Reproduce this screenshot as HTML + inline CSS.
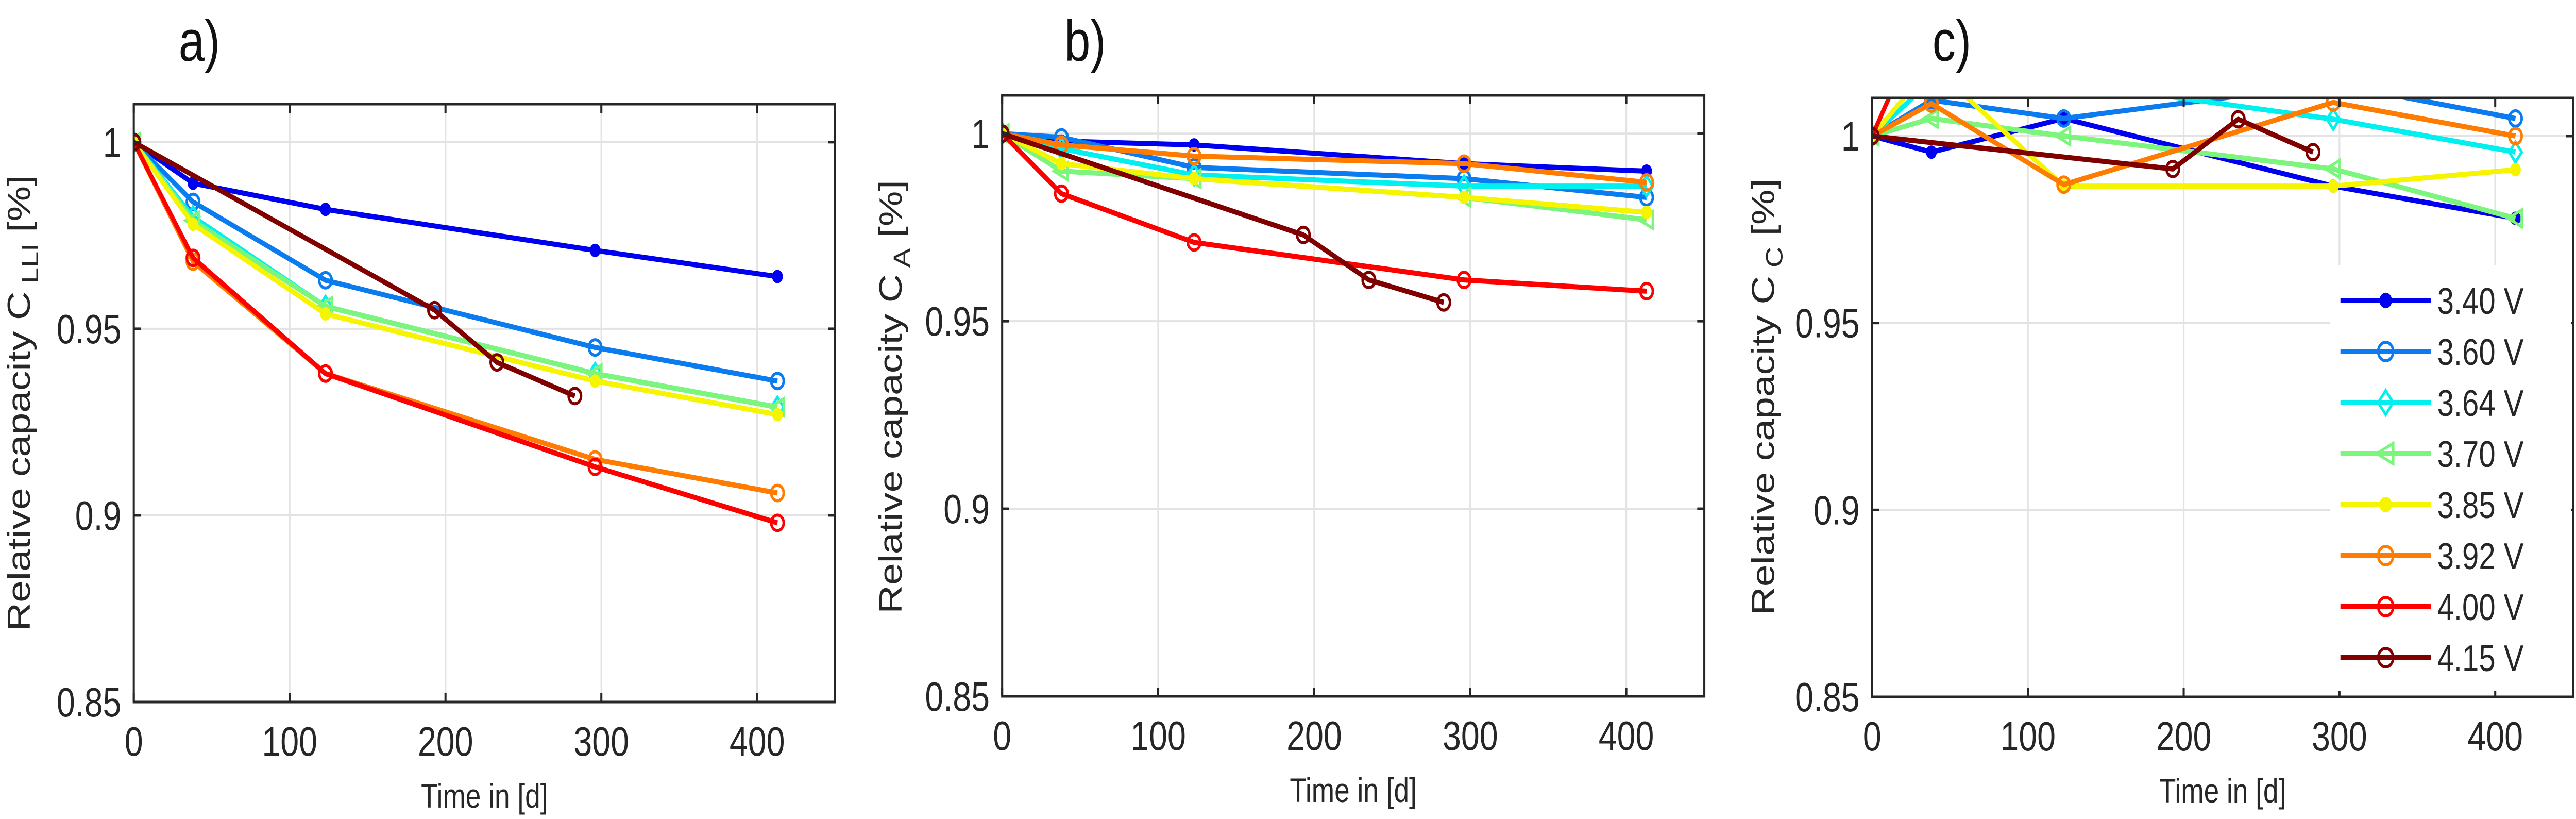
<!DOCTYPE html>
<html><head><meta charset="utf-8"><style>
html,body{margin:0;padding:0;background:#fff;overflow:hidden;width:100vw;height:100vh;}
svg{display:block;font-family:"Liberation Sans",Arial,sans-serif;width:100vw;height:100vh;}
</style></head><body>
<svg id="chart" viewBox="0 0 6200 1589" preserveAspectRatio="none" xmlns="http://www.w3.org/2000/svg">
<defs>
<clipPath id="clipA"><rect x="322" y="202" width="1688" height="1160"/></clipPath>
<clipPath id="clipB"><rect x="2412" y="185" width="1690" height="1166"/></clipPath>
<clipPath id="clipC"><rect x="4506" y="190" width="1687" height="1162"/></clipPath>
</defs>
</svg>
<script>
// ---- data ----
const seriesNames = ["3.40 V","3.60 V","3.64 V","3.70 V","3.85 V","3.92 V","4.00 V","4.15 V"];
const seriesColors = ["#0000f0","#0a7cf0","#00f0f0","#7cf57c","#f5f500","#ff7c00","#ff0000","#800000"];
const seriesMarkers = ["star","circle","diamond","triangle","star","circle","circle","circle"];
const timeMain = [0,38,123,296,413];
const timeHigh = [0,193,233,283];
const timeHighB = [0,193,235,283];
const xTicks = [0,100,200,300,400];
const yTicks = [0.85,0.9,0.95,1];
const yTickLabels = ["0.85","0.9","0.95","1"];

const valsA340 = [1,0.989,0.982,0.971,0.964];
const valsA360 = [1,0.984,0.963,0.945,0.936];
const valsA364 = [1,0.980,0.956,0.938,0.929];
const valsA370 = [1,0.979,0.956,0.938,0.929];
const valsA385 = [1,0.978,0.954,0.936,0.927];
const valsA392 = [1,0.968,0.938,0.915,0.906];
const valsA400 = [1,0.969,0.938,0.913,0.898];
const valsA415 = [1,0.955,0.941,0.932];

const valsB340 = [1,0.998,0.997,0.992,0.990];
const valsB360 = [1,0.999,0.991,0.988,0.983];
const valsB364 = [1,0.996,0.989,0.986,0.986];
const valsB370 = [1,0.990,0.988,0.983,0.977];
const valsB385 = [1,0.992,0.988,0.983,0.979];
const valsB392 = [1,0.997,0.994,0.992,0.987];
const valsB400 = [1,0.984,0.971,0.961,0.958];
const valsB415 = [1,0.973,0.961,0.955];

const valsC340 = [1,0.9957,1.0047,0.9866,0.978];
const valsC360 = [1,1.0096,1.0047,1.014,1.0047];
const valsC364 = [1,1.015,1.0145,1.0045,0.9957];
const valsC370 = [1,1.0047,1.0,0.9912,0.978];
const valsC385 = [1,1.019,0.9866,0.9866,0.991];
const valsC392 = [1,1.0087,0.987,1.009,1.0];
const valsC400 = [1,1.036,1.04,1.045,1.05];
const valsC415 = [1,0.9912,1.0045,0.9957];

const NS="http://www.w3.org/2000/svg";
const svg=document.getElementById('chart');
function mk(tag,attrs,parent){const e=document.createElementNS(NS,tag);for(const k in attrs)e.setAttribute(k,attrs[k]);(parent||svg).appendChild(e);return e;}

const panels=[
 {id:'a',L:322,R:2010,T:202,B:1362,clip:'clipA',title:'a)',tx:430,sub:'LLI',ylx:45,yly:782,
  xs:[timeMain,timeMain,timeMain,timeMain,timeMain,timeMain,timeMain,timeHigh],
  ys:[valsA340,valsA360,valsA364,valsA370,valsA385,valsA392,valsA400,valsA415]},
 {id:'b',L:2412,R:4102,T:185,B:1351,clip:'clipB',title:'b)',tx:2562,sub:'A',ylx:2143,yly:770,
  xs:[timeMain,timeMain,timeMain,timeMain,timeMain,timeMain,timeMain,timeHighB],
  ys:[valsB340,valsB360,valsB364,valsB370,valsB385,valsB392,valsB400,valsB415]},
 {id:'c',L:4506,R:6193,T:190,B:1352,clip:'clipC',title:'c)',tx:4651,sub:'C',ylx:4243,yly:770,
  xs:[timeMain,timeMain,timeMain,timeMain,timeMain,timeMain,timeMain,timeHighB],
  ys:[valsC340,valsC360,valsC364,valsC370,valsC385,valsC392,valsC400,valsC415]}
];
const XMAX=450,YMIN=0.85,YMAX=1.0102;

function drawMarker(g,type,x,y,color,s){
  let e;
  if(type==='circle'){e=mk('circle',{cx:x,cy:y,r:s,fill:'none',stroke:color,'stroke-width':6},g);}
  else if(type==='diamond'){e=mk('polygon',{points:`${x},${y-s*1.3} ${x+s},${y} ${x},${y+s*1.3} ${x-s},${y}`,fill:'none',stroke:color,'stroke-width':6},g);}
  else if(type==='triangle'){e=mk('polygon',{points:`${x-s*1.2},${y} ${x+s},${y-s*1.1} ${x+s},${y+s*1.1}`,fill:'none',stroke:color,'stroke-width':6},g);}
  else {e=mk('circle',{cx:x,cy:y,r:s*0.7,fill:color,stroke:color,'stroke-width':5},g);}
  return e;
}

panels.forEach(p=>{
  const sx=v=>p.L+(v/XMAX)*(p.R-p.L);
  const sy=v=>p.B-(v-YMIN)/(YMAX-YMIN)*(p.B-p.T);
  const g=mk('g',{});
  
  
  xTicks.forEach(t=>{const l=mk('line',{x1:sx(t),x2:sx(t),y1:p.T,y2:p.B,stroke:'#e3e3e3','stroke-width':4},g);
    });
  yTicks.forEach(t=>{const l=mk('line',{x1:p.L,x2:p.R,y1:sy(t),y2:sy(t),stroke:'#e3e3e3','stroke-width':4},g);
    });
  const sg=mk('g',{'clip-path':`url(#${p.clip})`},g);
  
  
  p.ys.forEach((vals,i)=>{
    const xsArr=p.xs[i];
    const pts=vals.map((v,j)=>sx(xsArr[j])+','+sy(v)).join(' ');
    const pl=mk('polyline',{points:pts,fill:'none',stroke:seriesColors[i],'stroke-width':10,'stroke-linejoin':'round'},sg);
    
    
    vals.forEach((v,j)=>{const m=drawMarker(sg,seriesMarkers[i],sx(xsArr[j]),sy(v),seriesColors[i],15);
      });
  });
  const box=mk('rect',{x:p.L,y:p.T,width:p.R-p.L,height:p.B-p.T,fill:'none',stroke:'#262626','stroke-width':5},g);
  
  xTicks.forEach(t=>{
    mk('line',{x1:sx(t),x2:sx(t),y1:p.B,y2:p.B-17,stroke:'#262626','stroke-width':5},g);
    mk('line',{x1:sx(t),x2:sx(t),y1:p.T,y2:p.T+17,stroke:'#262626','stroke-width':5},g);
    const tx=mk('text',{x:sx(t),y:p.B+104,'font-size':80,'text-anchor':'middle',fill:'#262626'},g);
    tx.textContent=String(t);
    
  });
  yTicks.forEach((t,k)=>{
    mk('line',{x1:p.L,x2:p.L+17,y1:sy(t),y2:sy(t),stroke:'#262626','stroke-width':5},g);
    mk('line',{x1:p.R,x2:p.R-17,y1:sy(t),y2:sy(t),stroke:'#262626','stroke-width':5},g);
    const tx=mk('text',{x:p.L-30,y:sy(t)+28,'font-size':80,'text-anchor':'end',fill:'#262626'},g);
    tx.textContent=yTickLabels[k];
    
  });
  const xl=mk('text',{x:(p.L+p.R)/2,y:p.B+205,'font-size':66,'text-anchor':'middle',fill:'#262626'},g);
  xl.textContent='Time in [d]';
  
  const yl=mk('text',{x:0,y:0,'font-size':77,'text-anchor':'middle',fill:'#262626',transform:`translate(${p.ylx+27},${p.yly}) rotate(-90)`},g);
  yl.innerHTML='Relative capacity C<tspan font-size="56" dy="20"> '+p.sub+'</tspan><tspan dy="-20"> [%]</tspan>';
  
  const tt=mk('text',{x:p.tx,y:118,'font-size':112,fill:'#111'},g);
  tt.textContent=p.title;
  
});

const lg=mk('g',{});


mk('rect',{x:5608,y:515,width:580,height:825,fill:'#fff'},lg);
seriesNames.forEach((n,i)=>{
  const y=583+i*99;
  const e=mk('g',{},lg);
  
  
  mk('line',{x1:5633,x2:5851,y1:y,y2:y,stroke:seriesColors[i],'stroke-width':10},e);
  drawMarker(e,seriesMarkers[i],5742,y,seriesColors[i],18);
  const t=mk('text',{x:5866,y:y+26,'font-size':72,fill:'#262626'},e);
  t.textContent=n;
});
</script>
</body></html>
